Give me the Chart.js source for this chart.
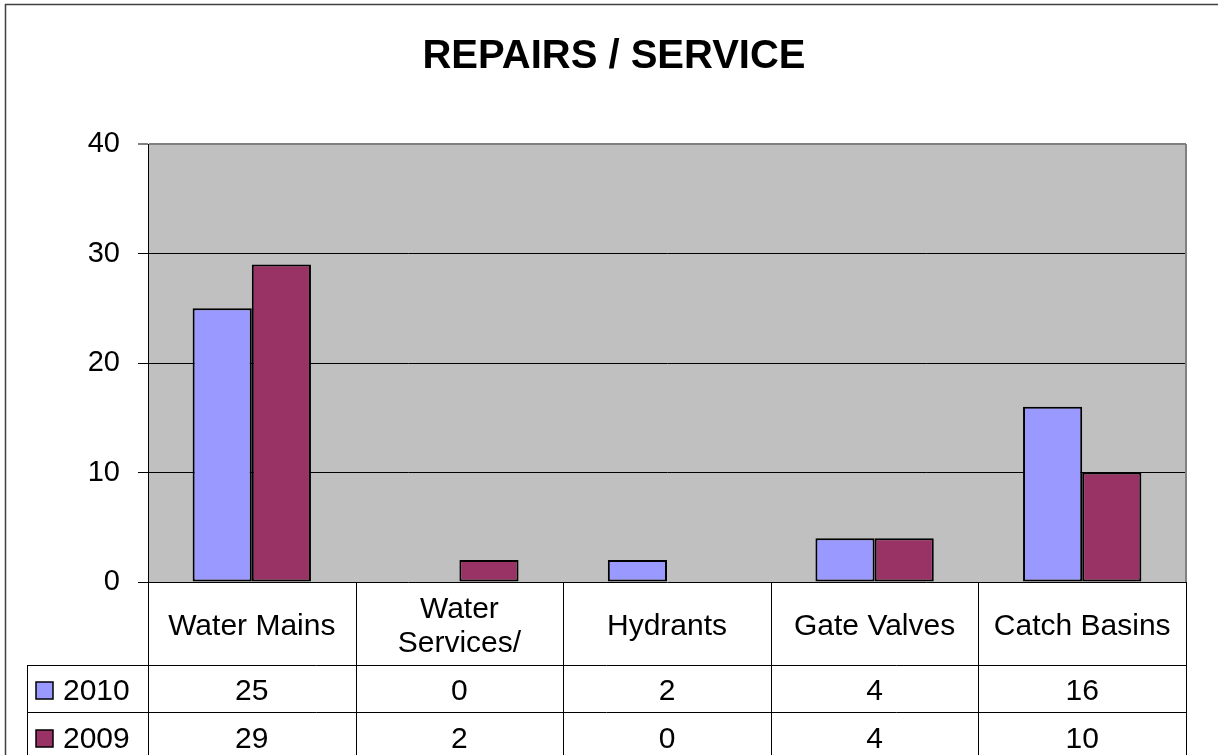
<!DOCTYPE html>
<html>
<head>
<meta charset="utf-8">
<script src="https://cdn.jsdelivr.net/npm/chart.js@4/dist/chart.umd.min.js"></script>
<style>
  body { margin: 0; background: #fff; }
  #wrap { width: 1218px; height: 755px; position: relative; }
</style>
</head>
<body>
<div id="wrap"><canvas id="c"></canvas></div>
<script>
const title = "REPAIRS / SERVICE";
const categories = ["Water Mains", ["Water", "Services/"], "Hydrants", "Gate Valves", "Catch Basins"];
const series2010 = [25, 0, 2, 4, 16];
const series2009 = [29, 2, 0, 4, 10];
const seriesNames = ["2010", "2009"];
const yTicks = [0, 10, 20, 30, 40];

const FONT = "'Liberation Sans', Arial, sans-serif";
const colors = ["#9999FF", "#993366"];

// gray plot area + frame
const plotBg = {
  id: "plotBg",
  beforeDraw(chart) {
    const {ctx, chartArea: a} = chart;
    ctx.save();
    ctx.fillStyle = "#fff";
    ctx.fillRect(0, 0, chart.width, chart.height);
    ctx.strokeStyle = "#404040";
    ctx.lineWidth = 1.5;
    ctx.strokeRect(5.5, 4.5, chart.width + 20, chart.height + 20);
    ctx.fillStyle = "#C0C0C0";
    ctx.fillRect(a.left, a.top, a.right - a.left, a.bottom - a.top);
    ctx.restore();
  },
  beforeDatasetsDraw(chart) {
    const {ctx, chartArea: a} = chart;
    ctx.save();
    ctx.strokeStyle = "#808080";
    ctx.lineWidth = 2;
    ctx.beginPath();
    ctx.moveTo(a.right, a.top);
    ctx.lineTo(a.right, a.bottom);
    ctx.stroke();
    ctx.fillStyle = "#000";
    ctx.font = "bold 40px " + FONT;
    ctx.textAlign = "center";
    ctx.textBaseline = "middle";
    ctx.fillText(title, 614, 57);
    ctx.restore();
  }
};

// data table under the plot
const dataTable = {
  id: "dataTable",
  afterDraw(chart) {
    const {ctx, chartArea: a} = chart;
    const xs = chart.scales.x;
    const n = categories.length;
    const colW = (a.right - a.left) / n;
    const row1 = 665, row2 = 712, bottom = chart.height;
    const legLeft = 27;
    ctx.save();
    ctx.strokeStyle = "#000";
    ctx.lineWidth = 1;
    ctx.beginPath();
    for (let i = 0; i <= n; i++) {
      const x = Math.round(a.left + i * colW) + 0.5;
      ctx.moveTo(x, a.bottom);
      ctx.lineTo(x, bottom);
    }
    ctx.moveTo(legLeft + 0.5, row1);
    ctx.lineTo(legLeft + 0.5, bottom);
    ctx.moveTo(legLeft, row1 + 0.5);
    ctx.lineTo(a.right, row1 + 0.5);
    ctx.moveTo(legLeft, row2 + 0.5);
    ctx.lineTo(a.right, row2 + 0.5);
    ctx.stroke();

    ctx.fillStyle = "#000";
    ctx.font = "30px " + FONT;
    ctx.textAlign = "center";
    ctx.textBaseline = "middle";
    categories.forEach((c, i) => {
      const cx = xs.getPixelForValue(i);
      const lines = Array.isArray(c) ? c : [c];
      const lh = 34;
      const y0 = 627 - (lines.length - 1) * lh / 2;
      lines.forEach((l, j) => ctx.fillText(l, cx, y0 + j * lh));
    });
    const rows = [series2010, series2009];
    const rowY = [692, 740];
    rows.forEach((vals, r) => {
      vals.forEach((v, i) => ctx.fillText(String(v), xs.getPixelForValue(i), rowY[r]));
      // legend key
      ctx.fillStyle = colors[r];
      ctx.fillRect(36, rowY[r] - 10, 17, 17);
      ctx.strokeStyle = "#000";
      ctx.lineWidth = 1.5;
      ctx.strokeRect(36, rowY[r] - 10, 17, 17);
      ctx.fillStyle = "#000";
      ctx.textAlign = "left";
      ctx.fillText(seriesNames[r], 63, rowY[r]);
      ctx.textAlign = "center";
    });
    ctx.restore();
  }
};

new Chart(document.getElementById("c"), {
  type: "bar",
  data: {
    labels: categories.map(c => Array.isArray(c) ? c.join(" ") : c),
    datasets: [
      { label: seriesNames[0], data: series2010, backgroundColor: colors[0] },
      { label: seriesNames[1], data: series2009, backgroundColor: colors[1] }
    ]
  },
  options: {
    responsive: true,
    maintainAspectRatio: false,
    animation: false,
    layout: { padding: { top: 144, left: 0, right: 32, bottom: 173 } },
    datasets: {
      bar: {
        borderColor: "#000",
        borderWidth: 2,
        borderSkipped: false,
        categoryPercentage: 0.57,
        barPercentage: 1
      }
    },
    plugins: {
      legend: { display: false },
      title: { display: false },
      tooltip: { enabled: false }
    },
    scales: {
      x: { display: false },
      y: {
        min: 0,
        max: 40,
        afterFit(scale) { scale.width = 148; },
        afterBuildTicks(scale) { scale.ticks = yTicks.map(v => ({value: v})); },
        ticks: {
          color: "#000",
          padding: 18,
          font: { family: FONT, size: 29 }
        },
        grid: {
          color: ctx => (ctx.tick && ctx.tick.value === 40) ? "#808080" : "#000",
          lineWidth: ctx => (ctx.tick && ctx.tick.value === 40) ? 2 : 1,
          tickLength: 10
        },
        border: { display: true, color: "#000", width: 1 }
      }
    }
  },
  plugins: [plotBg, dataTable]
});
</script>
</body>
</html>
